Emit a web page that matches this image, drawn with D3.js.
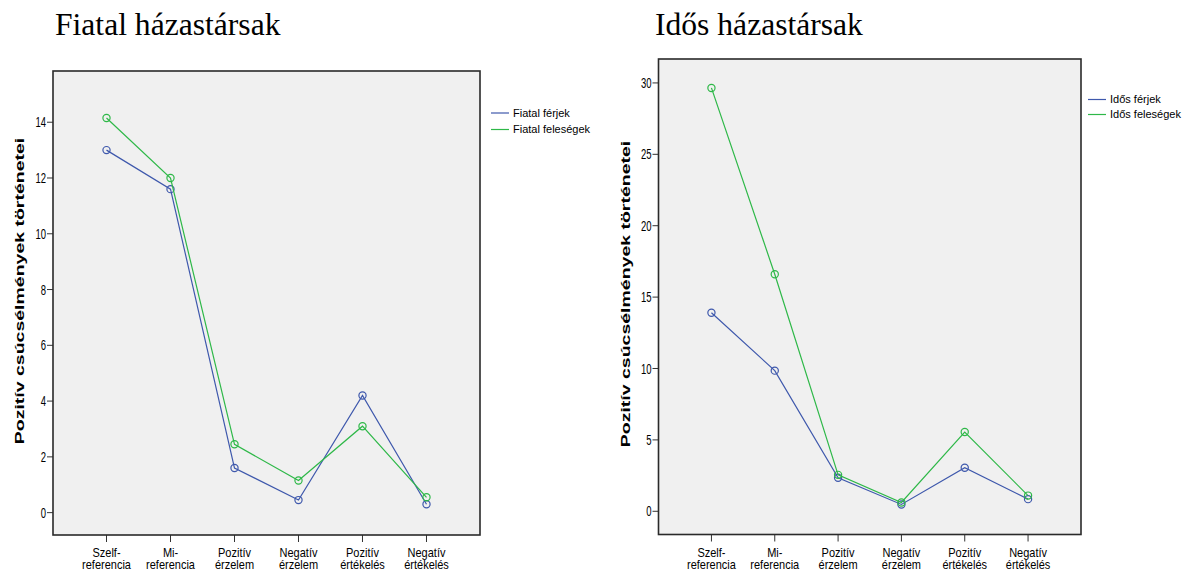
<!DOCTYPE html>
<html>
<head>
<meta charset="utf-8">
<script src="https://cdn.jsdelivr.net/npm/d3@7"></script>
<style>
  html, body { margin: 0; padding: 0; background: #fff; }
  svg { display: block; }
  text { font-family: Arial, "Liberation Sans", sans-serif; fill: #000; }
</style>
</head>
<body>
<svg id="chart" width="1190" height="571"></svg>
<script>
// ---- data ----
const categories = [
  ["Szelf-", "referencia"],
  ["Mi-", "referencia"],
  ["Pozitív", "érzelem"],
  ["Negatív", "érzelem"],
  ["Pozitív", "értékelés"],
  ["Negatív", "értékelés"]
];
const youngHusbands = [13.0, 11.6, 1.6, 0.45, 4.2, 0.3];
const youngWives    = [14.15, 12.0, 2.45, 1.15, 3.1, 0.55];
const oldHusbands   = [13.9, 9.85, 2.35, 0.48, 3.05, 0.85];
const oldWives      = [29.65, 16.6, 2.55, 0.62, 5.55, 1.1];
const youngTicks = [0, 2, 4, 6, 8, 10, 12, 14];
const oldTicks = [0, 5, 10, 15, 20, 25, 30];
const yTitle = "Pozitív csúcsélmények történetei";

const BLUE = "#3e58ac";
const GREEN = "#2eb848";

const svg = d3.select("#chart");

function drawPanel(cfg) {
  const g = svg.append("g");
  const keys = categories.map((c, i) => i);
  const x = d3.scalePoint().domain(keys).range([cfg.left, cfg.right]).padding(0.836);
  const y = d3.scaleLinear().domain(cfg.yDomain).range([cfg.bottom, cfg.top]);

  // title
  g.append("text")
    .attr("x", cfg.titleX).attr("y", 35)
    .style("font-family", "'Liberation Serif', 'Times New Roman', serif")
    .style("font-size", "31.6px")
    .text(cfg.title);

  // plot background
  g.append("rect")
    .attr("x", cfg.left).attr("y", cfg.top)
    .attr("width", cfg.right - cfg.left).attr("height", cfg.bottom - cfg.top)
    .attr("fill", "#f0f0f0");

  // y ticks
  cfg.ticks.forEach(t => {
    g.append("line")
      .attr("x1", cfg.left - 6).attr("x2", cfg.left)
      .attr("y1", y(t)).attr("y2", y(t))
      .attr("stroke", "#333").attr("stroke-width", 1);
    g.append("text")
      .attr("transform", `translate(${cfg.left - 7},${y(t)}) scale(1,1.5)`)
      .attr("text-anchor", "end").attr("dy", "0.36em")
      .style("font-size", "9.5px")
      .text(t);
  });

  // x ticks and labels
  keys.forEach(k => {
    g.append("line")
      .attr("x1", x(k)).attr("x2", x(k))
      .attr("y1", cfg.bottom).attr("y2", cfg.bottom + 7)
      .attr("stroke", "#333").attr("stroke-width", 1);
    g.append("text")
      .attr("transform", `translate(${x(k)},556.5) scale(1,1.08)`)
      .attr("text-anchor", "middle")
      .style("font-size", "11px")
      .text(categories[k][0]);
    g.append("text")
      .attr("transform", `translate(${x(k)},569) scale(1,1.08)`)
      .attr("text-anchor", "middle")
      .style("font-size", "11px")
      .text(categories[k][1]);
  });

  // y axis title
  g.append("text")
    .attr("transform", `translate(${cfg.yTitleX},${cfg.yTitleY}) rotate(-90) scale(1.5,1)`)
    .attr("text-anchor", "middle").attr("dy", "0.36em")
    .style("font-size", "13px").style("font-weight", "bold")
    .text(yTitle);

  // series
  const line = d3.line().x((d, i) => x(i)).y(d => y(d));
  cfg.series.forEach(s => {
    g.append("path")
      .datum(s.values)
      .attr("d", line)
      .attr("fill", "none")
      .attr("stroke", s.color)
      .attr("stroke-width", 1.2);
    g.selectAll(null).data(s.values).enter().append("circle")
      .attr("cx", (d, i) => x(i)).attr("cy", d => y(d))
      .attr("r", 3.6)
      .attr("fill", "none")
      .attr("stroke", s.color)
      .attr("stroke-width", 1.2);
  });

  // frame
  g.append("rect")
    .attr("x", cfg.left).attr("y", cfg.top)
    .attr("width", cfg.right - cfg.left).attr("height", cfg.bottom - cfg.top)
    .attr("fill", "none").attr("stroke", "#2a2a2a").attr("stroke-width", 1.6);

  // legend
  cfg.series.forEach((s, i) => {
    const ly = cfg.legendY[i];
    g.append("line")
      .attr("x1", cfg.legendX).attr("x2", cfg.legendX + 18)
      .attr("y1", ly).attr("y2", ly)
      .attr("stroke", s.color).attr("stroke-width", 1.2);
    g.append("text")
      .attr("x", cfg.legendX + 22).attr("y", ly).attr("dy", "0.36em")
      .style("font-size", "11px")
      .text(s.name);
  });
}

drawPanel({
  title: "Fiatal házastársak", titleX: 55,
  left: 53, right: 480, top: 71, bottom: 535,
  yDomain: [-0.802, 15.837],
  ticks: youngTicks,
  yTitleX: 19, yTitleY: 291,
  legendX: 491, legendY: [113, 129.5],
  series: [
    { name: "Fiatal férjek", values: youngHusbands, color: BLUE },
    { name: "Fiatal feleségek", values: youngWives, color: GREEN }
  ]
});

drawPanel({
  title: "Idős házastársak", titleX: 655,
  left: 658.5, right: 1081, top: 59, bottom: 534.5,
  yDomain: [-1.626, 31.676],
  ticks: oldTicks,
  yTitleX: 625, yTitleY: 294,
  legendX: 1088, legendY: [99.5, 114.5],
  series: [
    { name: "Idős férjek", values: oldHusbands, color: BLUE },
    { name: "Idős feleségek", values: oldWives, color: GREEN }
  ]
});
</script>
</body>
</html>
